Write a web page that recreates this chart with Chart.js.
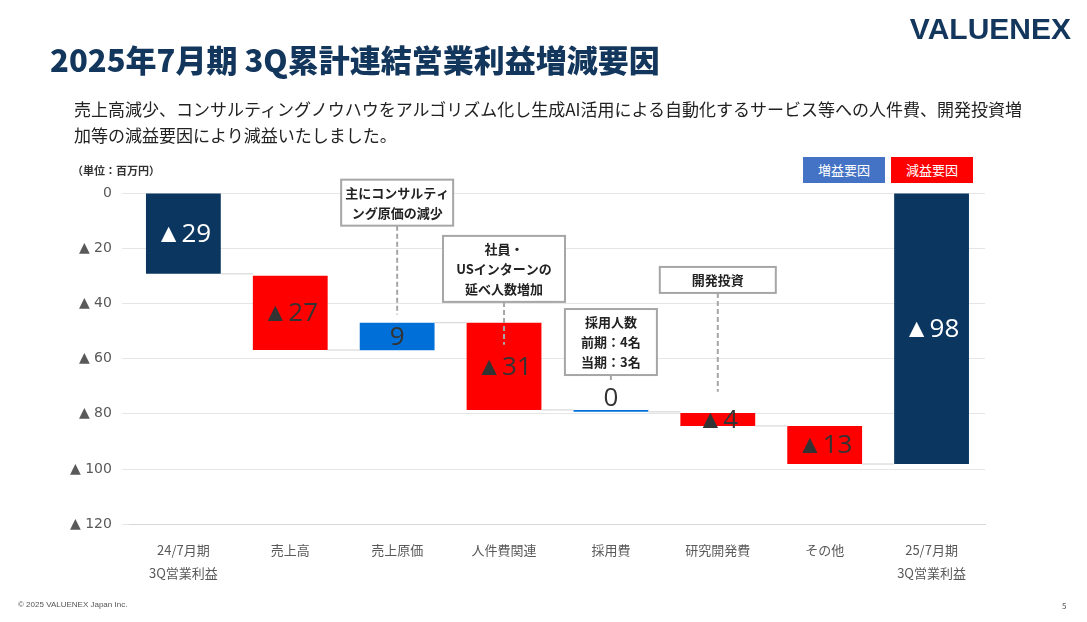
<!DOCTYPE html>
<html><head><meta charset="utf-8">
<script src="https://cdn.jsdelivr.net/npm/chart.js@4"></script>
<style>
body{margin:0;width:1087px;height:622px;background:#fff;font-family:"Noto Sans CJK JP","Noto Sans",sans-serif;position:relative;overflow:hidden}
#c{position:absolute;left:0;top:0}
.t{position:absolute;white-space:nowrap}
</style></head><body>
<canvas id="c" width="1087" height="622"></canvas>
<div class="t" style="left:50px;top:36px;font-size:31px;font-weight:900;color:#13365c">2025年7月期 3Q累計連結営業利益増減要因</div>
<div class="t" style="right:16px;top:12px;font-size:30px;font-weight:bold;color:#13365c;font-family:'Liberation Sans';letter-spacing:0px">VALUENEX</div>
<div class="t" style="left:74px;top:96px;font-size:17px;color:#222;line-height:26px">売上高減少、コンサルティングノウハウをアルゴリズム化し生成AI活用による自動化するサービス等への人件費、開発投資増<br>加等の減益要因により減益いたしました。</div>
<div class="t" style="left:72px;top:162px;font-size:11px;font-weight:bold;color:#333">（単位：百万円）</div>
<div class="t" style="left:803px;top:157px;width:82px;height:26px;line-height:26px;text-align:center;background:#4472c4;color:#fff;font-size:13px">増益要因</div>
<div class="t" style="left:891px;top:157px;width:82px;height:26px;line-height:26px;text-align:center;background:#ff0000;color:#fff;font-size:13px">減益要因</div>
<div class="t" style="left:18px;top:600px;font-size:8px;color:#555;font-family:'Liberation Sans'">© 2025 VALUENEX Japan Inc.</div>
<div class="t" style="left:1062px;top:600px;font-size:8px;color:#555">5</div>
<script>
var categories = [['24/7月期','3Q営業利益'],'売上高','売上原価','人件費関連','採用費','研究開発費','その他',['25/7月期','3Q営業利益']];
var barStart = [0, 30, 57, 47, 78.6, 79.7, 84.4, 0];
var barEnd   = [29.3, 56.9, 47, 78.6, 79.3, 84.4, 98.2, 98.2];
var valueLabels = ['▲29','▲27','9','▲31','0','▲4','▲13','▲98'];
var barColors = ['#0b3660','#ff0000','#0070d8','#ff0000','#0070d8','#ff0000','#ff0000','#0b3660'];
var labelColors = ['#fff','#333','#333','#333','#333','#333','#333','#fff'];
var yTicks = [0,20,40,60,80,100,120];
// callouts: category index, text lines, box centre y (value units), box width
var notes = [
  {i:2, lines:['主にコンサルティ','ング原価の減少'], y:3.5, w:112, lineTo:44},
  {i:3, lines:['社員・','USインターンの','延べ人数増加'], y:27.5, w:122, lineTo:55},
  {i:4, lines:['採用人数','前期：4名','当期：3名'], y:54, w:92, lineTo:68},
  {i:5, lines:['開発投資'], y:31.5, w:116, lineTo:72}
];

var extras = {
  id: 'extras',
  afterDatasetsDraw: function (chart) {
    var ctx = chart.ctx, x = chart.scales.x, y = chart.scales.y;
    var meta = chart.getDatasetMeta(0);
    ctx.save();
    // connectors
    ctx.strokeStyle = '#d0d0d0'; ctx.lineWidth = 1;
    for (var k = 0; k < meta.data.length - 1; k++) {
      var a = meta.data[k], b = meta.data[k + 1], yy = y.getPixelForValue(barEnd[k]);
      ctx.beginPath(); ctx.moveTo(a.x + a.width / 2, yy); ctx.lineTo(b.x - b.width / 2, yy); ctx.stroke();
    }
    // value labels
    ctx.textAlign = 'center'; ctx.textBaseline = 'middle';
    ctx.font = '26px "Open Sans"';
    meta.data.forEach(function (el, k) {
      var cy = y.getPixelForValue((barStart[k] + barEnd[k]) / 2);
      if (k === 4) cy = y.getPixelForValue(barEnd[k]) - 14;
      ctx.fillStyle = labelColors[k];
      ctx.fillText(valueLabels[k], el.x, cy + 1);
    });
    // callouts
    ctx.font = 'bold 13px "Noto Sans CJK JP"';
    notes.forEach(function (n) {
      var cx = x.getPixelForValue(n.i), cy = y.getPixelForValue(n.y);
      var h = n.lines.length * 20 + 6;
      ctx.strokeStyle = '#a6a6a6'; ctx.lineWidth = 2; ctx.setLineDash([5, 3]);
      ctx.beginPath(); ctx.moveTo(cx, cy + h / 2); ctx.lineTo(cx, y.getPixelForValue(n.lineTo)); ctx.stroke();
      ctx.setLineDash([]);
      ctx.fillStyle = '#fff';
      ctx.fillRect(cx - n.w / 2, cy - h / 2, n.w, h);
      ctx.strokeRect(cx - n.w / 2, cy - h / 2, n.w, h);
      ctx.fillStyle = '#222';
      n.lines.forEach(function (s, j) { ctx.fillText(s, cx, cy - h / 2 + 13 + j * 20); });
    });
    ctx.restore();
  }
};

new Chart(document.getElementById('c'), {
  type: 'bar',
  data: {
    labels: categories,
    datasets: [{
      data: barStart.map(function (s, k) { return [s, barEnd[k]]; }),
      backgroundColor: barColors,
      borderSkipped: false,
      barPercentage: 0.7, categoryPercentage: 1
    }]
  },
  options: {
    responsive: false, animation: false,
    layout: { padding: { left: 60, top: 193, right: 102, bottom: 31 } },
    plugins: { legend: { display: false }, tooltip: { enabled: false } },
    scales: {
      x: { grid: { display: false }, border: { color: '#d9d9d9' },
        ticks: { color: '#595959', font: { size: 13, family: 'Noto Sans CJK JP', lineHeight: 1.8 }, padding: 6 } },
      y: { reverse: true, min: 0, max: 120, afterBuildTicks: function (s) { s.ticks = yTicks.map(function (v) { return { value: v }; }); },
        grid: { color: '#e6e6e6' }, border: { display: false },
        ticks: { color: '#595959', font: { size: 14, family: 'DejaVu Sans' }, padding: 10,
          callback: function (v) { return v === 0 ? '0' : '▲ ' + v; } } }
    }
  },
  plugins: [extras]
});
</script>
</body></html>
